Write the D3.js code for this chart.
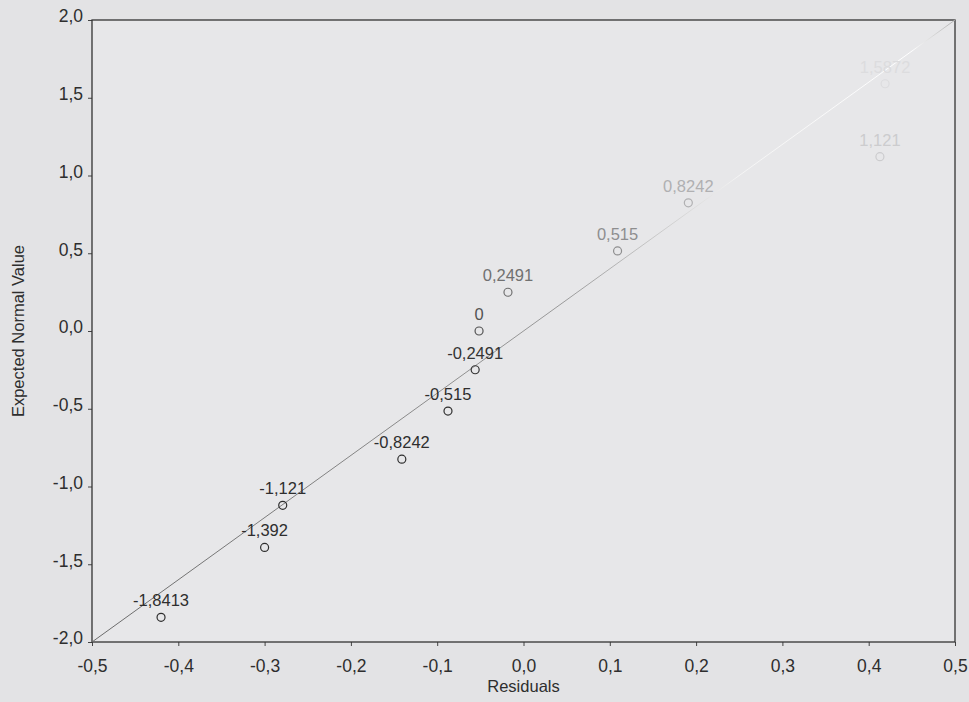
<!DOCTYPE html>
<html>
<head>
<meta charset="utf-8">
<script src="https://cdn.jsdelivr.net/npm/d3@7"></script>
<style>
  body { margin: 0; background: #e3e3e5; }
  svg { display: block; font-family: "Liberation Sans", Arial, sans-serif; }
</style>
</head>
<body>
<svg id="chart" width="969" height="702"></svg>
<script>
"use strict";

// residuals (x) and expected normal values (y)
var residuals = [-0.420, -0.300, -0.279, -0.141, -0.0875, -0.056, -0.0515, -0.018, 0.109, 0.191, 0.413, 0.419];
var expected = [-1.8413, -1.392, -1.121, -0.8242, -0.515, -0.2491, 0, 0.2491, 0.515, 0.8242, 1.121, 1.59];
var pointLabels = ["-1,8413", "-1,392", "-1,121", "-0,8242", "-0,515", "-0,2491", "0", "0,2491", "0,515", "0,8242", "1,121", "1,5872"];
var xTicks = [-0.5, -0.4, -0.3, -0.2, -0.1, 0.0, 0.1, 0.2, 0.3, 0.4, 0.5];
var yTicks = [-2.0, -1.5, -1.0, -0.5, 0.0, 0.5, 1.0, 1.5, 2.0];
var fitLine = [[-0.5, -2.0], [0.5, 2.0]];

var svg = d3.select("#chart");
var margin = { left: 92, top: 20, right: 14, bottom: 60 };
var width = 969 - margin.left - margin.right;
var height = 702 - margin.top - margin.bottom;

var x = d3.scaleLinear().domain([-0.5, 0.5]).range([0, width]);
var y = d3.scaleLinear().domain([-2, 2]).range([height, 0]);

// photo glare makes the upper right fade out
var fade = d3.scaleLinear().domain([-0.3, 0.3, 0.9, 1.3]).range(["#2e2e2e", "#777", "#b8b8ba", "#dcdcde"]).clamp(true);

// comma decimals, plain hyphen for minus
var comma = function (v) { return d3.format(".1f")(v).replace(".", ",").replace("\u2212", "-"); };

var g = svg.append("g").attr("transform", "translate(" + margin.left + "," + margin.top + ")");

g.append("rect")
  .attr("width", width)
  .attr("height", height)
  .style("fill", "#e7e7e9");

var xAxis = g.append("g")
  .attr("transform", "translate(0," + height + ")")
  .call(d3.axisBottom(x).tickValues(xTicks).tickFormat(comma).tickSize(4));
var yAxis = g.append("g")
  .call(d3.axisLeft(y).tickValues(yTicks).tickFormat(comma).tickSize(4));

[xAxis, yAxis].forEach(function (ax) {
  ax.select(".domain").remove();
  ax.selectAll("line").style("stroke", "#444");
  ax.selectAll("text")
    .style("font-size", "17.5px")
    .style("fill", "#2e2e2e");
});
xAxis.selectAll("text").attr("dy", "1.3em");
yAxis.selectAll("text").attr("x", -9).attr("dy", "0.1em");

// frame
g.append("rect")
  .attr("width", width)
  .attr("height", height)
  .style("fill", "none")
  .style("stroke", "#333")
  .style("stroke-width", 1.3);

var grad = svg.append("defs").append("linearGradient")
  .attr("id", "lineFade")
  .attr("gradientUnits", "userSpaceOnUse")
  .attr("x1", x(-0.5)).attr("y1", y(-2))
  .attr("x2", x(0.5)).attr("y2", y(2));
grad.append("stop").attr("offset", "0").attr("stop-color", "#6a6a6a");
grad.append("stop").attr("offset", "0.55").attr("stop-color", "#9a9a9a");
grad.append("stop").attr("offset", "0.75").attr("stop-color", "#f4f4f4");
grad.append("stop").attr("offset", "0.95").attr("stop-color", "#ffffff");
grad.append("stop").attr("offset", "1").attr("stop-color", "#b0b0b0");

g.append("path")
  .datum(fitLine)
  .attr("d", d3.line().x(function (d) { return x(d[0]); }).y(function (d) { return y(d[1]); }))
  .style("fill", "none")
  .style("stroke", "url(#lineFade)")
  .style("stroke-width", 1);

var points = residuals.map(function (r, i) {
  return { x: r, y: expected[i], label: pointLabels[i] };
});

g.selectAll("circle.pt")
  .data(points)
  .enter().append("circle")
  .attr("class", "pt")
  .attr("cx", function (d) { return x(d.x); })
  .attr("cy", function (d) { return y(d.y); })
  .attr("r", 4)
  .style("fill", "none")
  .style("stroke", function (d) { return fade(d.y); })
  .style("stroke-width", 1.2);

g.selectAll("text.lbl")
  .data(points)
  .enter().append("text")
  .attr("class", "lbl")
  .attr("x", function (d) { return x(d.x); })
  .attr("y", function (d) { return y(d.y) - 11; })
  .attr("text-anchor", "middle")
  .style("font-size", "16.5px")
  .style("fill", function (d) { return fade(d.y); })
  .text(function (d) { return d.label; });

svg.append("text")
  .attr("x", margin.left + x(0))
  .attr("y", 692)
  .attr("text-anchor", "middle")
  .style("font-size", "16.5px")
  .style("fill", "#2e2e2e")
  .text("Residuals");

svg.append("text")
  .attr("transform", "translate(24," + (margin.top + y(0)) + ") rotate(-90)")
  .attr("text-anchor", "middle")
  .style("font-size", "16.5px")
  .style("fill", "#2e2e2e")
  .text("Expected Normal Value");
</script>
</body>
</html>
